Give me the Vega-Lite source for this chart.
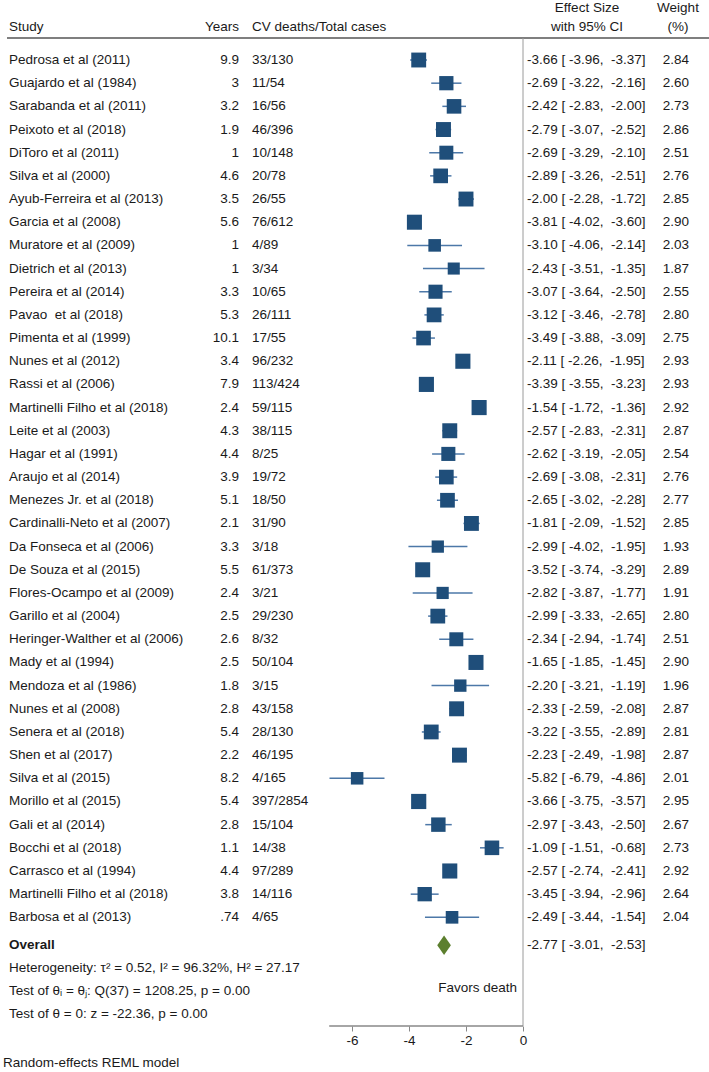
{
  "$schema": "https://vega.github.io/schema/vega-lite/v6.json",
  "width": 709,
  "height": 1026,
  "autosize": "none",
  "padding": {"left": 0, "top": 0, "right": 0, "bottom": 46},
  "background": "white",
  "config": {
    "view": {"stroke": null},
    "font": "Liberation Sans",
    "text": {"font": "Liberation Sans", "fontSize": 13.5, "color": "#1a1a1a", "baseline": "middle"}
  },
  "datasets": {
    "studies": [
      {"study": "Pedrosa et al (2011)", "years": "9.9", "cv": "33/130", "es": -3.66, "lo": -3.96, "hi": -3.37, "w": 2.84, "ci": "-3.66 [ -3.96,\u00a0 -3.37]", "row": 0},
      {"study": "Guajardo et al (1984)", "years": "3", "cv": "11/54", "es": -2.69, "lo": -3.22, "hi": -2.16, "w": 2.60, "ci": "-2.69 [ -3.22,\u00a0 -2.16]", "row": 1},
      {"study": "Sarabanda et al (2011)", "years": "3.2", "cv": "16/56", "es": -2.42, "lo": -2.83, "hi": -2.00, "w": 2.73, "ci": "-2.42 [ -2.83,\u00a0 -2.00]", "row": 2},
      {"study": "Peixoto et al (2018)", "years": "1.9", "cv": "46/396", "es": -2.79, "lo": -3.07, "hi": -2.52, "w": 2.86, "ci": "-2.79 [ -3.07,\u00a0 -2.52]", "row": 3},
      {"study": "DiToro et al (2011)", "years": "1", "cv": "10/148", "es": -2.69, "lo": -3.29, "hi": -2.10, "w": 2.51, "ci": "-2.69 [ -3.29,\u00a0 -2.10]", "row": 4},
      {"study": "Silva et al (2000)", "years": "4.6", "cv": "20/78", "es": -2.89, "lo": -3.26, "hi": -2.51, "w": 2.76, "ci": "-2.89 [ -3.26,\u00a0 -2.51]", "row": 5},
      {"study": "Ayub-Ferreira et al (2013)", "years": "3.5", "cv": "26/55", "es": -2.00, "lo": -2.28, "hi": -1.72, "w": 2.85, "ci": "-2.00 [ -2.28,\u00a0 -1.72]", "row": 6},
      {"study": "Garcia et al (2008)", "years": "5.6", "cv": "76/612", "es": -3.81, "lo": -4.02, "hi": -3.60, "w": 2.90, "ci": "-3.81 [ -4.02,\u00a0 -3.60]", "row": 7},
      {"study": "Muratore et al (2009)", "years": "1", "cv": "4/89", "es": -3.10, "lo": -4.06, "hi": -2.14, "w": 2.03, "ci": "-3.10 [ -4.06,\u00a0 -2.14]", "row": 8},
      {"study": "Dietrich et al (2013)", "years": "1", "cv": "3/34", "es": -2.43, "lo": -3.51, "hi": -1.35, "w": 1.87, "ci": "-2.43 [ -3.51,\u00a0 -1.35]", "row": 9},
      {"study": "Pereira et al (2014)", "years": "3.3", "cv": "10/65", "es": -3.07, "lo": -3.64, "hi": -2.50, "w": 2.55, "ci": "-3.07 [ -3.64,\u00a0 -2.50]", "row": 10},
      {"study": "Pavao \u00a0et al (2018)", "years": "5.3", "cv": "26/111", "es": -3.12, "lo": -3.46, "hi": -2.78, "w": 2.80, "ci": "-3.12 [ -3.46,\u00a0 -2.78]", "row": 11},
      {"study": "Pimenta et al (1999)", "years": "10.1", "cv": "17/55", "es": -3.49, "lo": -3.88, "hi": -3.09, "w": 2.75, "ci": "-3.49 [ -3.88,\u00a0 -3.09]", "row": 12},
      {"study": "Nunes et al (2012)", "years": "3.4", "cv": "96/232", "es": -2.11, "lo": -2.26, "hi": -1.95, "w": 2.93, "ci": "-2.11 [ -2.26,\u00a0 -1.95]", "row": 13},
      {"study": "Rassi et al (2006)", "years": "7.9", "cv": "113/424", "es": -3.39, "lo": -3.55, "hi": -3.23, "w": 2.93, "ci": "-3.39 [ -3.55,\u00a0 -3.23]", "row": 14},
      {"study": "Martinelli Filho et al (2018)", "years": "2.4", "cv": "59/115", "es": -1.54, "lo": -1.72, "hi": -1.36, "w": 2.92, "ci": "-1.54 [ -1.72,\u00a0 -1.36]", "row": 15},
      {"study": "Leite et al (2003)", "years": "4.3", "cv": "38/115", "es": -2.57, "lo": -2.83, "hi": -2.31, "w": 2.87, "ci": "-2.57 [ -2.83,\u00a0 -2.31]", "row": 16},
      {"study": "Hagar et al (1991)", "years": "4.4", "cv": "8/25", "es": -2.62, "lo": -3.19, "hi": -2.05, "w": 2.54, "ci": "-2.62 [ -3.19,\u00a0 -2.05]", "row": 17},
      {"study": "Araujo et al (2014)", "years": "3.9", "cv": "19/72", "es": -2.69, "lo": -3.08, "hi": -2.31, "w": 2.76, "ci": "-2.69 [ -3.08,\u00a0 -2.31]", "row": 18},
      {"study": "Menezes Jr. et al (2018)", "years": "5.1", "cv": "18/50", "es": -2.65, "lo": -3.02, "hi": -2.28, "w": 2.77, "ci": "-2.65 [ -3.02,\u00a0 -2.28]", "row": 19},
      {"study": "Cardinalli-Neto et al (2007)", "years": "2.1", "cv": "31/90", "es": -1.81, "lo": -2.09, "hi": -1.52, "w": 2.85, "ci": "-1.81 [ -2.09,\u00a0 -1.52]", "row": 20},
      {"study": "Da Fonseca et al (2006)", "years": "3.3", "cv": "3/18", "es": -2.99, "lo": -4.02, "hi": -1.95, "w": 1.93, "ci": "-2.99 [ -4.02,\u00a0 -1.95]", "row": 21},
      {"study": "De Souza et al (2015)", "years": "5.5", "cv": "61/373", "es": -3.52, "lo": -3.74, "hi": -3.29, "w": 2.89, "ci": "-3.52 [ -3.74,\u00a0 -3.29]", "row": 22},
      {"study": "Flores-Ocampo et al (2009)", "years": "2.4", "cv": "3/21", "es": -2.82, "lo": -3.87, "hi": -1.77, "w": 1.91, "ci": "-2.82 [ -3.87,\u00a0 -1.77]", "row": 23},
      {"study": "Garillo et al (2004)", "years": "2.5", "cv": "29/230", "es": -2.99, "lo": -3.33, "hi": -2.65, "w": 2.80, "ci": "-2.99 [ -3.33,\u00a0 -2.65]", "row": 24},
      {"study": "Heringer-Walther et al (2006)", "years": "2.6", "cv": "8/32", "es": -2.34, "lo": -2.94, "hi": -1.74, "w": 2.51, "ci": "-2.34 [ -2.94,\u00a0 -1.74]", "row": 25},
      {"study": "Mady et al (1994)", "years": "2.5", "cv": "50/104", "es": -1.65, "lo": -1.85, "hi": -1.45, "w": 2.90, "ci": "-1.65 [ -1.85,\u00a0 -1.45]", "row": 26},
      {"study": "Mendoza et al (1986)", "years": "1.8", "cv": "3/15", "es": -2.20, "lo": -3.21, "hi": -1.19, "w": 1.96, "ci": "-2.20 [ -3.21,\u00a0 -1.19]", "row": 27},
      {"study": "Nunes et al (2008)", "years": "2.8", "cv": "43/158", "es": -2.33, "lo": -2.59, "hi": -2.08, "w": 2.87, "ci": "-2.33 [ -2.59,\u00a0 -2.08]", "row": 28},
      {"study": "Senera et al (2018)", "years": "5.4", "cv": "28/130", "es": -3.22, "lo": -3.55, "hi": -2.89, "w": 2.81, "ci": "-3.22 [ -3.55,\u00a0 -2.89]", "row": 29},
      {"study": "Shen et al (2017)", "years": "2.2", "cv": "46/195", "es": -2.23, "lo": -2.49, "hi": -1.98, "w": 2.87, "ci": "-2.23 [ -2.49,\u00a0 -1.98]", "row": 30},
      {"study": "Silva et al (2015)", "years": "8.2", "cv": "4/165", "es": -5.82, "lo": -6.79, "hi": -4.86, "w": 2.01, "ci": "-5.82 [ -6.79,\u00a0 -4.86]", "row": 31},
      {"study": "Morillo et al (2015)", "years": "5.4", "cv": "397/2854", "es": -3.66, "lo": -3.75, "hi": -3.57, "w": 2.95, "ci": "-3.66 [ -3.75,\u00a0 -3.57]", "row": 32},
      {"study": "Gali et al (2014)", "years": "2.8", "cv": "15/104", "es": -2.97, "lo": -3.43, "hi": -2.50, "w": 2.67, "ci": "-2.97 [ -3.43,\u00a0 -2.50]", "row": 33},
      {"study": "Bocchi et al (2018)", "years": "1.1", "cv": "14/38", "es": -1.09, "lo": -1.51, "hi": -0.68, "w": 2.73, "ci": "-1.09 [ -1.51,\u00a0 -0.68]", "row": 34},
      {"study": "Carrasco et al (1994)", "years": "4.4", "cv": "97/289", "es": -2.57, "lo": -2.74, "hi": -2.41, "w": 2.92, "ci": "-2.57 [ -2.74,\u00a0 -2.41]", "row": 35},
      {"study": "Martinelli Filho et al (2018)", "years": "3.8", "cv": "14/116", "es": -3.45, "lo": -3.94, "hi": -2.96, "w": 2.64, "ci": "-3.45 [ -3.94,\u00a0 -2.96]", "row": 36},
      {"study": "Barbosa et al (2013)", "years": ".74", "cv": "4/65", "es": -2.49, "lo": -3.44, "hi": -1.54, "w": 2.04, "ci": "-2.49 [ -3.44,\u00a0 -1.54]", "row": 37}
    ],
    "overall": [
      {"label": "Overall", "es": -2.77, "lo": -3.01, "hi": -2.53, "ci": "-2.77 [ -3.01,\u00a0 -2.53]", "row": 38.2}
    ],
    "notes": [
      {"label": "Heterogeneity: τ² = 0.52, I² = 96.32%, H² = 27.17", "row": 39.2},
      {"label": "Test of θᵢ = θⱼ: Q(37) = 1208.25, p = 0.00", "row": 40.2},
      {"label": "Test of θ = 0: z = -22.36, p = 0.00", "row": 41.17}
    ]
  },
  "encoding": {
    "y": {"type": "quantitative", "scale": {"domain": [-2.59, 41.69], "nice": false, "zero": false, "reverse": true}, "axis": null}
  },
  "layer": [
    {
      "data": {"name": "studies"},
      "mark": {"type": "rule", "color": "#4d78a8", "strokeWidth": 1.5},
      "encoding": {
        "x": {"field": "lo", "type": "quantitative",
              "scale": {"domain": [-18.351, 6.526], "nice": false, "zero": false},
              "axis": {"values": [-6, -4, -2, 0], "domain": false, "grid": false, "title": null,
                       "labelExpr": "'' + datum.value",
                       "tickColor": "#888888", "tickSize": 5, "tickWidth": 1,
                       "labelFont": "Liberation Sans", "labelFontSize": 13.5, "labelColor": "#1a1a1a", "labelPadding": 2}},
        "x2": {"field": "hi"},
        "y": {"field": "row", "type": "quantitative"}
      }
    },
    {
      "data": {"values": [{}]},
      "mark": {"type": "rule", "color": "#555555", "strokeWidth": 1.3},
      "encoding": {"x": {"datum": -18.105}, "x2": {"datum": 6.526}, "y": {"datum": -0.95}}
    },
    {
      "data": {"values": [{}]},
      "mark": {"type": "rule", "color": "#9a9a9a", "strokeWidth": 1},
      "encoding": {"x": {"datum": 0}, "y": {"datum": -0.95}, "y2": {"datum": 41.69}}
    },
    {
      "data": {"values": [{}]},
      "mark": {"type": "rule", "color": "#888888", "strokeWidth": 1.5},
      "encoding": {"x": {"datum": -6.8}, "x2": {"datum": 0}, "y": {"datum": 41.69}}
    },
    {
      "data": {"name": "studies"},
      "mark": {"type": "point", "shape": "square", "filled": true, "color": "#1f4e7a", "opacity": 1},
      "encoding": {
        "x": {"field": "es", "type": "quantitative"},
        "y": {"field": "row", "type": "quantitative"},
        "size": {"field": "w", "type": "quantitative", "scale": {"domain": [0, 3], "range": [0, 234], "zero": true}, "legend": null}
      }
    },
    {
      "data": {"name": "overall"},
      "mark": {"type": "point", "shape": "M -0.7 0 L 0 -1 L 0.7 0 L 0 1 Z", "filled": true, "color": "#5c7f2e", "opacity": 1, "size": 380},
      "encoding": {
        "x": {"field": "es", "type": "quantitative"},
        "y": {"field": "row", "type": "quantitative"}
      }
    },
    {
      "data": {"name": "studies"},
      "mark": {"type": "text", "align": "left"},
      "encoding": {"x": {"value": 9}, "y": {"field": "row", "type": "quantitative"}, "text": {"field": "study"}}
    },
    {
      "data": {"name": "studies"},
      "mark": {"type": "text", "align": "right"},
      "encoding": {"x": {"value": 239}, "y": {"field": "row", "type": "quantitative"}, "text": {"field": "years"}}
    },
    {
      "data": {"name": "studies"},
      "mark": {"type": "text", "align": "left"},
      "encoding": {"x": {"value": 252}, "y": {"field": "row", "type": "quantitative"}, "text": {"field": "cv"}}
    },
    {
      "data": {"name": "studies"},
      "mark": {"type": "text", "align": "left"},
      "encoding": {"x": {"value": 527}, "y": {"field": "row", "type": "quantitative"}, "text": {"field": "ci"}}
    },
    {
      "data": {"name": "studies"},
      "mark": {"type": "text", "align": "right"},
      "encoding": {"x": {"value": 689}, "y": {"field": "row", "type": "quantitative"}, "text": {"field": "w", "format": ".2f"}}
    },
    {
      "data": {"name": "overall"},
      "mark": {"type": "text", "align": "left", "fontWeight": "bold"},
      "encoding": {"x": {"value": 9}, "y": {"field": "row", "type": "quantitative"}, "text": {"field": "label"}}
    },
    {
      "data": {"name": "overall"},
      "mark": {"type": "text", "align": "left"},
      "encoding": {"x": {"value": 527}, "y": {"field": "row", "type": "quantitative"}, "text": {"field": "ci"}}
    },
    {
      "data": {"name": "notes"},
      "mark": {"type": "text", "align": "left"},
      "encoding": {"x": {"value": 9}, "y": {"field": "row", "type": "quantitative"}, "text": {"field": "label"}}
    },
    {
      "data": {"values": [{"label": "Favors death", "row": 40.05}]},
      "mark": {"type": "text", "align": "right"},
      "encoding": {"x": {"value": 517}, "y": {"field": "row", "type": "quantitative"}, "text": {"field": "label"}}
    },
    {
      "data": {"values": [{"label": "Random-effects REML model", "row": 43.29}]},
      "mark": {"type": "text", "align": "left"},
      "encoding": {"x": {"value": 3}, "y": {"field": "row", "type": "quantitative"}, "text": {"field": "label"}}
    },
    {
      "data": {"values": [{"label": "Study", "row": -1.42}]},
      "mark": {"type": "text", "align": "left"},
      "encoding": {"x": {"value": 9}, "y": {"field": "row", "type": "quantitative"}, "text": {"field": "label"}}
    },
    {
      "data": {"values": [{"label": "Years", "row": -1.42}]},
      "mark": {"type": "text", "align": "right"},
      "encoding": {"x": {"value": 239}, "y": {"field": "row", "type": "quantitative"}, "text": {"field": "label"}}
    },
    {
      "data": {"values": [{"label": "CV deaths/Total cases", "row": -1.42}]},
      "mark": {"type": "text", "align": "left"},
      "encoding": {"x": {"value": 252}, "y": {"field": "row", "type": "quantitative"}, "text": {"field": "label"}}
    },
    {
      "data": {"values": [{"label": "Effect Size", "row": -2.24}, {"label": "with 95% CI", "row": -1.42}]},
      "mark": {"type": "text", "align": "center"},
      "encoding": {"x": {"value": 587}, "y": {"field": "row", "type": "quantitative"}, "text": {"field": "label"}}
    },
    {
      "data": {"values": [{"label": "Weight", "row": -2.24}, {"label": "(%)", "row": -1.42}]},
      "mark": {"type": "text", "align": "center"},
      "encoding": {"x": {"value": 678}, "y": {"field": "row", "type": "quantitative"}, "text": {"field": "label"}}
    }
  ]
}
